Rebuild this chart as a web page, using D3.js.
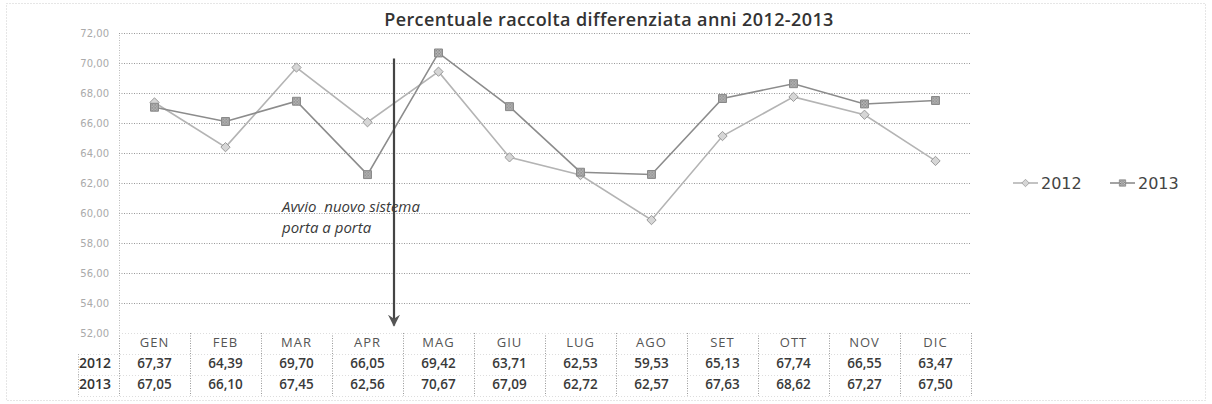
<!DOCTYPE html>
<html lang="it">
<head>
<meta charset="UTF-8">
<title>Percentuale raccolta differenziata</title>
<script src="https://cdn.jsdelivr.net/npm/d3@7"></script>
<style>
  body { margin: 0; background: #fff; }
  svg { display: block; font-family: "Open Sans", "DejaVu Sans", sans-serif; }
</style>
</head>
<body>
<div id="chart"></div>
<script>
// data
const months = ["GEN", "FEB", "MAR", "APR", "MAG", "GIU", "LUG", "AGO", "SET", "OTT", "NOV", "DIC"];
const years = ["2012", "2013"];
const v2012 = [67.37, 64.39, 69.70, 66.05, 69.42, 63.71, 62.53, 59.53, 65.13, 67.74, 66.55, 63.47];
const v2013 = [67.05, 66.10, 67.45, 62.56, 70.67, 67.09, 62.72, 62.57, 67.63, 68.62, 67.27, 67.50];
const yTicks = [52, 54, 56, 58, 60, 62, 64, 66, 68, 70, 72];
const title = "Percentuale raccolta differenziata anni 2012-2013";
const noteLines = ["Avvio  nuovo sistema", "porta a porta"];
const noteMonth = "APR";

const W = 1212, H = 404;
const plot = { left: 119, right: 971, top: 33, bottom: 333 };
const rowH = 21;

const svg = d3.select("#chart").append("svg").attr("width", W).attr("height", H);

// hatch pattern for the 2013 squares
const defs = svg.append("defs");
const pat = defs.append("pattern").attr("id", "hatch").attr("width", 3).attr("height", 3)
  .attr("patternUnits", "userSpaceOnUse");
pat.append("rect").attr("width", 3).attr("height", 3).attr("fill", "#c8c8c8");
pat.append("rect").attr("width", 1.5).attr("height", 1.5).attr("fill", "#777");
pat.append("rect").attr("x", 1.5).attr("y", 1.5).attr("width", 1.5).attr("height", 1.5).attr("fill", "#888");

// arrow head, tip along the line direction
defs.append("marker").attr("id", "arrow").attr("viewBox", "0 0 10 10")
  .attr("refX", 9).attr("refY", 5).attr("markerWidth", 5.5).attr("markerHeight", 5.5)
  .attr("orient", "auto").attr("markerUnits", "strokeWidth")
  .append("path").attr("d", "M0,0 L10,5 L0,10 L3.5,5 Z").attr("fill", "#555");

// outer frame
svg.append("rect").attr("x", 6.5).attr("y", 3.5).attr("width", W - 13).attr("height", H - 7)
  .attr("fill", "none").attr("stroke", "#ccc").attr("stroke-dasharray", "1,2");

const x = d3.scaleBand().domain(months).range([plot.left, plot.right]);
const y = d3.scaleLinear().domain([52, 72]).range([plot.bottom, plot.top]);

// gridlines
svg.append("g").selectAll("line").data(yTicks.filter(d => d > 52)).join("line")
  .attr("x1", plot.left).attr("x2", plot.right)
  .attr("y1", d => y(d) + 0.5).attr("y2", d => y(d) + 0.5)
  .attr("stroke", "#999").attr("stroke-dasharray", "1,1.5");

// y axis
const yAxis = svg.append("g").attr("transform", `translate(${plot.left},0)`)
  .call(d3.axisLeft(y).tickValues(yTicks).tickSize(0).tickPadding(10)
    .tickFormat(d => d3.format(".2f")(d).replace(".", ",")));
yAxis.select(".domain").attr("stroke", "#bbb").attr("stroke-dasharray", "1,1.5");
yAxis.selectAll("text").attr("fill", "#aaa").attr("font-size", 10).attr("font-family", "DejaVu Sans");

// lines
const line = d3.line().x((d, i) => x(months[i]) + x.bandwidth() / 2).y(d => y(d));
svg.append("path").datum(v2012).attr("d", line).attr("fill", "none")
  .attr("stroke", "#b4b4b4").attr("stroke-width", 1.6);
svg.append("path").datum(v2013).attr("d", line).attr("fill", "none")
  .attr("stroke", "#8c8c8c").attr("stroke-width", 1.6);

const diamond = d3.symbol().type(d3.symbolDiamond2).size(55);
const square = d3.symbol().type(d3.symbolSquare2).size(80);

svg.append("g").selectAll("path").data(v2012).join("path")
  .attr("d", diamond)
  .attr("transform", (d, i) => `translate(${x(months[i]) + x.bandwidth() / 2},${y(d)})`)
  .attr("fill", "#d6d6d6").attr("stroke", "#9a9a9a").attr("stroke-width", 1);
svg.append("g").selectAll("path").data(v2013).join("path")
  .attr("d", square)
  .attr("transform", (d, i) => `translate(${x(months[i]) + x.bandwidth() / 2},${y(d)})`)
  .attr("fill", "url(#hatch)").attr("stroke", "#888").attr("stroke-width", 1);

// arrow + note
const ax = x(noteMonth) + x.bandwidth() - 9;
svg.append("line").attr("x1", ax).attr("x2", ax).attr("y1", y(70.3)).attr("y2", y(52.5))
  .attr("stroke", "#444").attr("stroke-width", 2.2).attr("marker-end", "url(#arrow)");
svg.append("g").selectAll("text").data(noteLines).join("text")
  .attr("x", 282).attr("y", (d, i) => 212 + i * 21)
  .attr("font-style", "italic").attr("font-size", 15).attr("fill", "#3a3a3a")
  .attr("xml:space", "preserve").style("white-space", "pre")
  .text(d => d);

// title
svg.append("text").attr("x", 609).attr("y", 26).attr("text-anchor", "middle")
  .attr("font-size", 18).attr("font-weight", 600).attr("letter-spacing", 0.4)
  .attr("fill", "#333").text(title);

// data table
const tbl = svg.append("g");
const rows = [v2012, v2013];
const tableTop = plot.bottom;
// vertical dotted separators
tbl.selectAll("line.v").data(months.concat(["end"])).join("line")
  .attr("x1", (d, i) => plot.left + i * x.bandwidth() + 0.5)
  .attr("x2", (d, i) => plot.left + i * x.bandwidth() + 0.5)
  .attr("y1", tableTop).attr("y2", tableTop + rowH * 3)
  .attr("stroke", "#999").attr("stroke-dasharray", "1,1.5");
// horizontal faint lines
tbl.selectAll("line.h").data([0, 1, 2, 3]).join("line")
  .attr("x1", d => d === 0 ? plot.left : 78).attr("x2", plot.right)
  .attr("y1", d => tableTop + d * rowH + 0.5).attr("y2", d => tableTop + d * rowH + 0.5)
  .attr("stroke", "#ddd").attr("stroke-dasharray", "1,2");
tbl.append("line").attr("x1", 78.5).attr("x2", 78.5)
  .attr("y1", tableTop + rowH).attr("y2", tableTop + rowH * 3)
  .attr("stroke", "#aaa").attr("stroke-dasharray", "1,1.5");

tbl.selectAll("text.m").data(months).join("text")
  .attr("x", d => x(d) + x.bandwidth() / 2).attr("y", tableTop + 14)
  .attr("text-anchor", "middle").attr("font-size", 13).attr("letter-spacing", 1)
  .attr("fill", "#555").text(d => d);
rows.forEach((vals, r) => {
  const ry = tableTop + rowH * (r + 1) + 14;
  tbl.append("text").attr("x", 79).attr("y", ry).attr("font-size", 14)
    .attr("fill", "#333").attr("font-weight", 600).text(years[r]);
  tbl.selectAll(null).data(vals).join("text")
    .attr("x", (d, i) => x(months[i]) + x.bandwidth() / 2).attr("y", ry)
    .attr("text-anchor", "middle").attr("font-size", 13.5).attr("font-weight", 600)
    .attr("fill", "#3a3a3a").text(d => d3.format(".2f")(d).replace(".", ","));
});

// legend
const legend = svg.append("g").attr("transform", "translate(0,183)");
const legendItems = [
  { name: years[0], x: 1013, sym: diamond, fill: "#d6d6d6", stroke: "#b4b4b4", mstroke: "#9a9a9a" },
  { name: years[1], x: 1110, sym: square, fill: "url(#hatch)", stroke: "#8c8c8c", mstroke: "#888" }
];
legendItems.forEach(it => {
  legend.append("line").attr("x1", it.x).attr("x2", it.x + 25).attr("y1", 0).attr("y2", 0)
    .attr("stroke", it.stroke).attr("stroke-width", 1.6);
  legend.append("path").attr("d", it.sym).attr("transform", `translate(${it.x + 12.5},0) scale(0.8)`)
    .attr("fill", it.fill).attr("stroke", it.mstroke);
  legend.append("text").attr("x", it.x + 28).attr("y", 6).attr("font-size", 16)
    .attr("fill", "#444").attr("font-family", "DejaVu Sans").text(it.name);
});
</script>
</body>
</html>
